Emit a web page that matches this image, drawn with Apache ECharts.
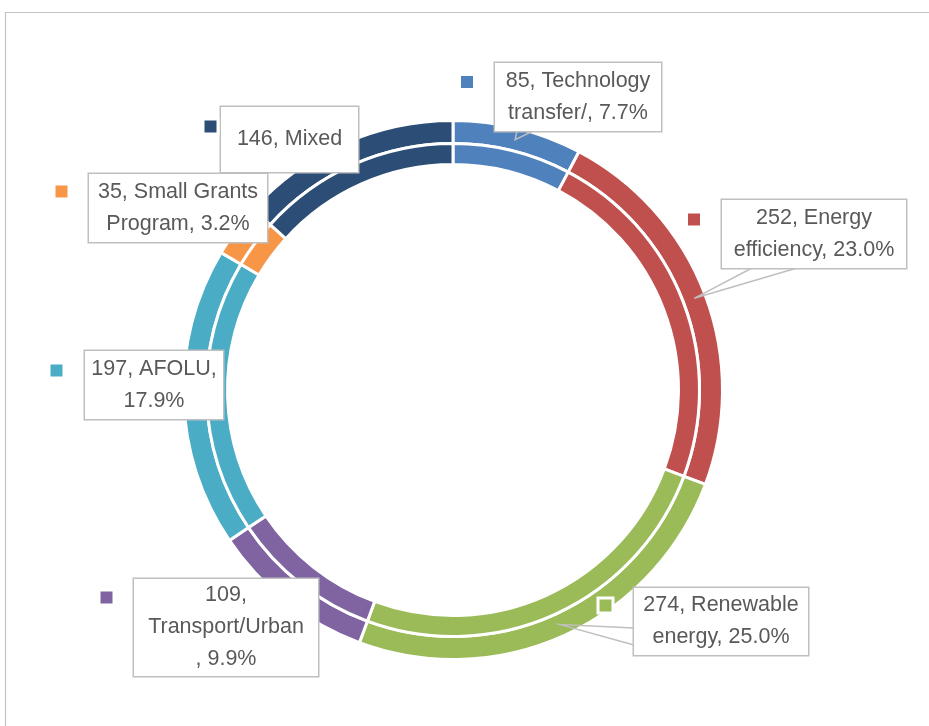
<!DOCTYPE html>
<html><head><meta charset="utf-8">
<script src="https://cdn.jsdelivr.net/npm/echarts@6/dist/echarts.min.js"></script>
<style>html,body{margin:0;padding:0;background:#fff}#c{width:929px;height:726px}</style>
</head><body><div id="c"></div>
<script>
// ---- data ----
const categories = ['Technology transfer/', 'Energy efficiency', 'Renewable energy', 'Transport/Urban', 'AFOLU', 'Small Grants Program', 'Mixed'];
const values = [85, 252, 274, 109, 197, 35, 146];
const labelTemplates = [
  '{v}, Technology\ntransfer/, {p}%',
  '{v}, Energy\nefficiency, {p}%',
  '{v}, Renewable\nenergy, {p}%',
  '{v},\nTransport/Urban\n, {p}%',
  '{v}, AFOLU,\n{p}%',
  '{v}, Small Grants\nProgram, {p}%',
  '{v}, Mixed'
];
const colors = ['#4F81BD', '#C0504D', '#9BBB59', '#8064A2', '#4BACC6', '#F79646', '#2C4D75'];

// ---- layout (positions of label boxes, callout bases and legend keys) ----
const boxes = [
  {x: 495, y: 63, w: 166, h: 68, base: [[517, 131], [533, 131]]},
  {x: 722, y: 200, w: 184, h: 68, base: [[752, 268], [797, 268]]},
  {x: 634, y: 588, w: 174, h: 67, base: [[634, 628], [634, 645]]},
  {x: 134, y: 579, w: 184, h: 97},
  {x: 85, y: 351, w: 138, h: 68},
  {x: 89, y: 174, w: 178, h: 68},
  {x: 221, y: 107, w: 137, h: 65}
];
const keyPos = [[467, 82], [694, 219.5], [605.5, 605.5], [106.5, 597.5], [56.5, 370.5], [61.5, 191.5], [210.5, 126.5]];

const total = values.reduce((a, b) => a + b, 0);
const LH = 32;
function labelText(i) {
  const pct = (values[i] / total * 100).toFixed(1);
  return labelTemplates[i].replace('{v}', String(values[i])).replace('{p}', pct);
}

const ringData = categories.map((n, i) => ({name: n, value: values[i], itemStyle: {color: colors[i]}}));

const labelData = categories.map((n, i) => {
  const b = boxes[i];
  const lines = labelText(i).split('\n').length;
  const padV = (b.h - lines * LH) / 2;
  return {
    name: n, value: values[i],
    label: {width: b.w, padding: [padV, 0, padV, 0]},
    labelLine: {show: !!b.base}
  };
});

const keyData = categories.map((n, i) => ({
  name: n, value: values[i],
  label: {backgroundColor: colors[i]}
}));

const chart = echarts.init(document.getElementById('c'));
const center = [453, 390];
chart.setOption({
  animation: false,
  backgroundColor: '#fff',
  graphic: [{
    type: 'polyline', silent: true,
    shape: {points: [[5.5, 726], [5.5, 12.5], [929, 12.5]]},
    style: {stroke: '#c4c4c4', lineWidth: 1.2, fill: null}
  }],
  series: [
    {
      type: 'pie', center: center, radius: [246.5, 269.5], z: 2,
      silent: true, label: {show: false}, labelLine: {show: false},
      itemStyle: {borderColor: '#fff', borderWidth: 3},
      emphasis: {disabled: true},
      data: ringData
    },
    {
      type: 'pie', center: center, radius: [225.5, 246.5], z: 2,
      silent: true, label: {show: false}, labelLine: {show: false},
      itemStyle: {borderColor: '#fff', borderWidth: 3},
      emphasis: {disabled: true},
      data: ringData
    },
    {
      type: 'pie', center: center, radius: [0, 258], z: 5,
      silent: true, emphasis: {disabled: true},
      itemStyle: {color: 'rgba(0,0,0,0)', borderWidth: 0},
      label: {
        show: true, position: 'outside',
        formatter: p => labelText(p.dataIndex),
        fontFamily: '"Liberation Sans", Arial, sans-serif',
        fontSize: 21.5, lineHeight: LH, color: '#595959',
        backgroundColor: '#fff', borderColor: '#bfbfbf', borderWidth: 1.5,
        align: 'center'
      },
      labelLine: {show: true, length: 10, length2: 10, lineStyle: {color: '#bfbfbf', width: 1.5}},
      labelLayout: function (params) {
        const i = params.dataIndex;
        const b = boxes[i];
        const res = {x: b.x + b.w / 2, y: b.y, align: 'center', verticalAlign: 'top'};
        if (b.base && params.labelLinePoints) {
          const tip = params.labelLinePoints[0];
          res.labelLinePoints = [b.base[0], [tip[0], tip[1]], b.base[1]];
        }
        return res;
      },
      data: labelData
    },
    {
      type: 'pie', center: center, radius: [0, 258], z: 6,
      silent: true, emphasis: {disabled: true},
      itemStyle: {color: 'rgba(0,0,0,0)', borderWidth: 0},
      label: {
        show: true, position: 'outside', formatter: ' ',
        width: 12, height: 12, padding: 0, fontSize: 1, lineHeight: 12,
        borderColor: '#fff', borderWidth: 3
      },
      labelLine: {show: false},
      labelLayout: function (params) {
        const k = keyPos[params.dataIndex];
        return {x: k[0], y: k[1], align: 'center', verticalAlign: 'middle'};
      },
      data: keyData
    }
  ]
});
</script></body></html>
